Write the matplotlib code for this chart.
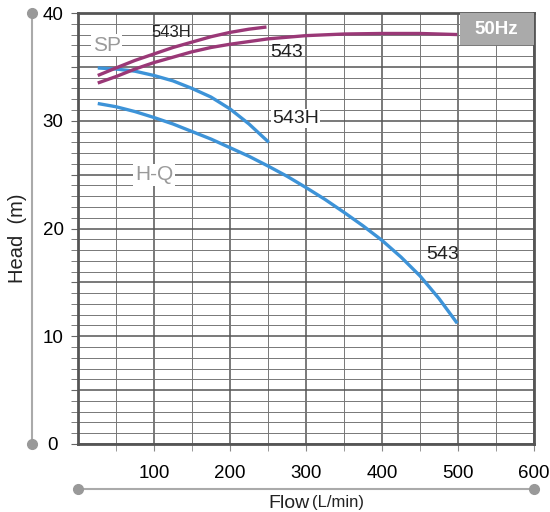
import matplotlib.pyplot as plt
from matplotlib.patches import Rectangle

plt.rcParams['font.family'] = ['Liberation Sans', 'DejaVu Sans']

# H-Q curves (flow L/min, head m)
hq_543_flow = [26, 50, 75, 100, 125, 150, 175, 200, 225, 250, 275, 300,
               325, 350, 375, 400, 425, 450, 475, 499]
hq_543_head = [31.6, 31.3, 30.85, 30.3, 29.7, 29.0, 28.3, 27.5, 26.7, 25.8, 24.85, 23.8,
               22.7, 21.5, 20.25, 18.9, 17.35, 15.6, 13.5, 11.2]
hq_543h_flow = [26, 50, 75, 100, 125, 150, 175, 200, 225, 251]
hq_543h_head = [34.9, 34.8, 34.6, 34.2, 33.7, 33.0, 32.2, 31.1, 29.7, 28.0]

# SP curves
sp_543_flow = [26, 50, 75, 100, 125, 150, 175, 200, 250, 300, 350, 400, 450, 499]
sp_543_head = [33.5, 34.1, 34.8, 35.4, 35.9, 36.4, 36.8, 37.1, 37.6, 37.9, 38.05, 38.1, 38.1, 38.0]
sp_543h_flow = [26, 50, 75, 100, 125, 150, 175, 200, 225, 248]
sp_543h_head = [34.2, 34.9, 35.6, 36.2, 36.8, 37.3, 37.8, 38.2, 38.5, 38.7]

x_ticks = [100, 200, 300, 400, 500, 600]
y_ticks = [0, 5, 10, 15, 20, 25, 30, 35, 40]
y_labels = ['0', '', '10', '', '20', '', '30', '', '40']

BLUE = '#3d93d8'
PURPLE = '#9a3877'
GRAY = '#9a9a9a'

fig = plt.figure(figsize=(5.5, 5.12), dpi=100)
ax = fig.add_axes([78 / 550, 68 / 512, 456 / 550, 431 / 512])

ax.set_xlim(0, 600)
ax.set_ylim(0, 40)

# grid
ax.set_xticks(x_ticks)
ax.set_xticks(range(50, 600, 100), minor=True)
ax.set_yticks(y_ticks)
ax.set_yticklabels(y_labels)
ax.set_yticks(range(0, 41, 1), minor=True)
ax.grid(which='major', color='#555555', lw=1.1)
ax.grid(which='minor', color='#777777', lw=0.7)
ax.set_axisbelow(True)
for s in ax.spines.values():
    s.set_color('#555555')
    s.set_linewidth(2)

ax.tick_params(axis='y', which='both', length=5, color='#666666', pad=13, labelsize=13.5)
for lab in ax.get_yticklabels():
    lab.set_horizontalalignment('center')
ax.tick_params(axis='x', which='both', length=5, color='#888888', pad=10, labelsize=13.5)

# curves
for fx, hy, col in [(hq_543_flow, hq_543_head, BLUE),
                    (hq_543h_flow, hq_543h_head, BLUE),
                    (sp_543_flow, sp_543_head, PURPLE),
                    (sp_543h_flow, sp_543h_head, PURPLE)]:
    ax.plot(fx, hy, color=col, lw=2.4, solid_capstyle='butt', solid_joinstyle='round')

# labels
ax.text(123, 38.2, '543H', fontsize=12, ha='center', va='center', color='#222222')
ax.text(274, 36.3, '543', fontsize=14, ha='center', va='center', color='#222222')
ax.text(286, 30.2, '543H', fontsize=14, ha='center', va='center', color='#222222',
        bbox=dict(facecolor='white', edgecolor='none', pad=0.5))
ax.text(480, 17.6, '543', fontsize=14, ha='center', va='center', color='#222222')
ax.text(38, 37.0, 'SP', fontsize=15, ha='center', va='center', color=GRAY,
        bbox=dict(facecolor='white', edgecolor='none', pad=1))
ax.text(100, 25.0, 'H-Q', fontsize=15, ha='center', va='center', color=GRAY,
        bbox=dict(facecolor='white', edgecolor='none', pad=1))

# 50Hz badge
ax.add_patch(Rectangle((502, 37), 98, 3, facecolor='#aaaaaa', edgecolor='none', zorder=3))
ax.text(551, 38.5, '50Hz', fontsize=13.5, fontweight='bold', color='white',
        ha='center', va='center', zorder=4)

# axis decorations
ytr = ax.get_yaxis_transform()
ax.plot([-0.101, -0.101], [0, 40], transform=ytr, color='#aaaaaa', lw=1.5, clip_on=False)
ax.plot([-0.101, -0.101], [0, 40], transform=ytr, ls='none', marker='o', ms=7,
        color='#999999', clip_on=False)
xtr = ax.get_xaxis_transform()
ax.plot([0, 600], [-0.104, -0.104], transform=xtr, color='#aaaaaa', lw=1.5, clip_on=False)
ax.plot([0, 600], [-0.104, -0.104], transform=xtr, ls='none', marker='o', ms=7,
        color='#999999', clip_on=False)

fig.text(18 / 550, 1 - 238 / 512, 'Head  (m)', rotation=90, fontsize=14.5,
         ha='center', va='center', color='#222222')
fig.text(310 / 550, 1 - 503 / 512, 'Flow', fontsize=14, ha='right', va='center', color='#222222')
fig.text(312 / 550, 1 - 503 / 512, '(L/min)', fontsize=12, ha='left', va='center', color='#222222')

fig.savefig('out.png', dpi=100)
